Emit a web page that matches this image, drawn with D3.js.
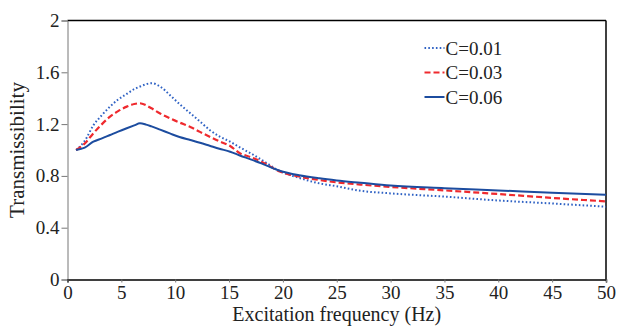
<!DOCTYPE html>
<html>
<head>
<meta charset="utf-8">
<script src="https://cdn.jsdelivr.net/npm/d3@7"></script>
<style>
  body { margin: 0; background: #fff; }
  svg text { font-family: "Liberation Serif", "Times New Roman", serif; fill: #222; }
</style>
</head>
<body>
<svg id="chart" width="618" height="327"></svg>
<script>
 // data
 let freq = [0.8, 1.6, 2.4, 3.2, 3.95, 4.7, 5.5, 6.2, 6.73, 7.3, 7.8, 8.6, 9.5, 10.4, 11.4, 12.3, 13.2, 14.1, 15.1, 16.0, 17.0, 18.0, 19.7, 21.5, 23.4, 25, 27.2, 30, 35, 40, 45, 50];
 let c001 = [1.0, 1.07, 1.19, 1.27, 1.335, 1.39, 1.433, 1.47, 1.49, 1.508, 1.516, 1.49, 1.425, 1.355, 1.284, 1.22, 1.155, 1.105, 1.064, 1.02, 0.975, 0.925, 0.838, 0.785, 0.742, 0.72, 0.685, 0.665, 0.64, 0.61, 0.587, 0.562];
 let c003 = [1.0, 1.05, 1.129, 1.2, 1.258, 1.3, 1.335, 1.355, 1.361, 1.345, 1.322, 1.282, 1.245, 1.212, 1.178, 1.14, 1.103, 1.067, 1.031, 0.975, 0.945, 0.91, 0.835, 0.795, 0.768, 0.75, 0.733, 0.715, 0.688, 0.66, 0.63, 0.603];
 let c006 = [1.0, 1.018, 1.064, 1.09, 1.116, 1.142, 1.168, 1.19, 1.206, 1.196, 1.182, 1.157, 1.128, 1.1, 1.077, 1.056, 1.033, 1.01, 0.987, 0.958, 0.928, 0.897, 0.84, 0.805, 0.781, 0.765, 0.747, 0.725, 0.705, 0.688, 0.67, 0.654];
 let seriesNames = ["C=0.01", "C=0.03", "C=0.06"];
 let xTicks = [0, 5, 10, 15, 20, 25, 30, 35, 40, 45, 50];
 let yTicks = [0, 0.4, 0.8, 1.2, 1.6, 2];

 let svg = d3.select("svg#chart");
 let width = +svg.attr("width");
 let height = +svg.attr("height");
 let margin = {top: 20.5, right: 12, bottom: 47.5, left: 67.5};
 let chartWidth = width - margin.left - margin.right;
 let chartHeight = height - margin.top - margin.bottom;
 const fontFam = "'Liberation Serif', 'Times New Roman', serif";

 const xScale = d3.scaleLinear().domain([0, 50]).range([0, chartWidth]);
 const yScale = d3.scaleLinear().domain([0, 2]).range([chartHeight, 0]);

 let styles = [
   {color: "#2f62c4", width: 2, dash: "1.6,2.2"},
   {color: "#ef2a2e", width: 2.2, dash: "6,3"},
   {color: "#1c4c9f", width: 2, dash: null}
 ];
 let allSeries = [c001, c003, c006];

 let area = svg.append("g").attr("transform", `translate(${margin.left},${margin.top})`);

 // frame: top and right black
 area.append("line").attr("x1", 0).attr("x2", chartWidth).attr("y1", 0).attr("y2", 0)
     .attr("stroke", "#000").attr("stroke-width", 1.5);
 area.append("line").attr("x1", chartWidth).attr("x2", chartWidth).attr("y1", 0).attr("y2", chartHeight)
     .attr("stroke", "#000").attr("stroke-width", 1.5);

 let leftAxis = d3.axisLeft(yScale).tickValues(yTicks)
                  .tickFormat(d => String(+d.toFixed(1)))
                  .tickSize(6).tickPadding(2);
 let yAxisG = area.append("g").call(leftAxis).attr("font-family", fontFam);
 yAxisG.select(".domain").attr("stroke", "#777").attr("stroke-width", 1);
 yAxisG.selectAll(".tick line").attr("stroke", "#777");
 yAxisG.selectAll(".tick text").style("font-size", "19px").attr("fill", "#222");

 let bottomAxis = d3.axisBottom(xScale).tickValues(xTicks)
                    .tickSize(3).tickPadding(3);
 let xAxisG = area.append("g").attr("transform", `translate(0,${chartHeight})`).call(bottomAxis)
                  .attr("font-family", fontFam);
 xAxisG.select(".domain").attr("stroke", "#000").attr("stroke-width", 1.5);
 xAxisG.selectAll(".tick line").attr("stroke", "#777");
 xAxisG.selectAll(".tick text").style("font-size", "19px").attr("fill", "#222");

 let line = d3.line()
              .x((d, i) => xScale(freq[i]))
              .y(d => yScale(d))
              .curve(d3.curveMonotoneX);

 area.selectAll("path.series")
     .data(allSeries)
     .join("path")
     .attr("class", "series")
     .attr("fill", "none")
     .attr("stroke", (d, i) => styles[i].color)
     .attr("stroke-width", (d, i) => styles[i].width)
     .attr("stroke-dasharray", (d, i) => styles[i].dash)
     .attr("d", line);

 // legend
 let legendY = [27.5, 52, 76.5];
 let legend = area.append("g").attr("transform", "translate(357,0)");
 seriesNames.forEach((name, i) => {
   legend.append("line")
         .attr("x1", 0).attr("x2", 20).attr("y1", legendY[i]).attr("y2", legendY[i])
         .attr("stroke", styles[i].color).attr("stroke-width", styles[i].width)
         .attr("stroke-dasharray", styles[i].dash);
   legend.append("text")
         .attr("x", 21).attr("y", legendY[i]).attr("dy", "0.35em")
         .style("font-size", "19px").text(name);
 });

 // axis titles
 svg.append("text")
    .attr("x", margin.left + chartWidth / 2).attr("y", 321)
    .attr("text-anchor", "middle").style("font-size", "20px")
    .text("Excitation frequency (Hz)");
 svg.append("text")
    .attr("transform", `translate(24,${margin.top + chartHeight / 2}) rotate(-90)`)
    .attr("text-anchor", "middle").style("font-size", "21px")
    .text("Transmissibility");
</script>
</body>
</html>
